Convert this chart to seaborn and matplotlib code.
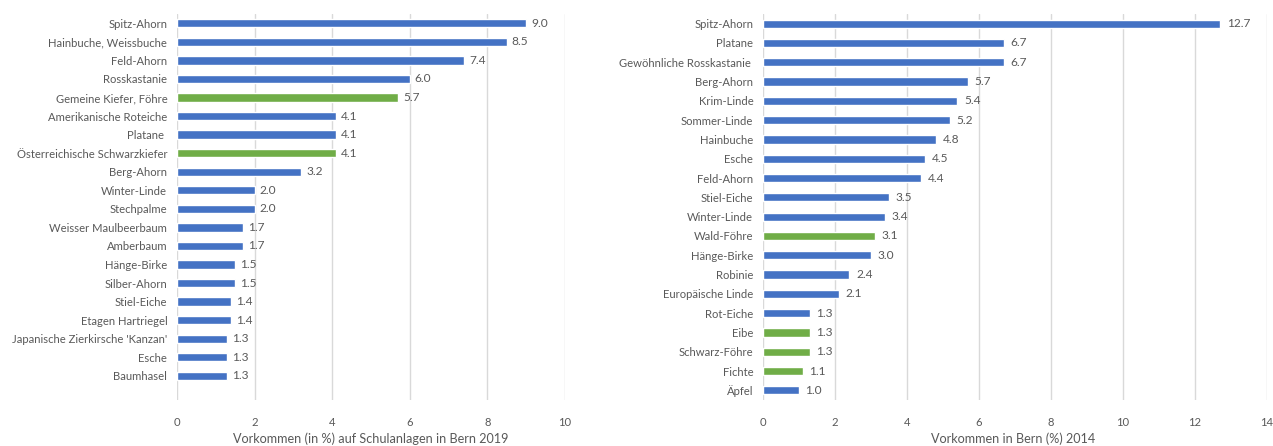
import matplotlib
matplotlib.use("Agg")
import matplotlib.pyplot as plt
import seaborn as sns
import pandas as pd

# ---- data ----
left_species = ["Spitz-Ahorn", "Hainbuche, Weissbuche", "Feld-Ahorn", "Rosskastanie",
                "Gemeine Kiefer, Föhre", "Amerikanische Roteiche", "Platane ",
                "Österreichische Schwarzkiefer", "Berg-Ahorn", "Winter-Linde", "Stechpalme",
                "Weisser Maulbeerbaum", "Amberbaum", "Hänge-Birke", "Silber-Ahorn",
                "Stiel-Eiche", "Etagen Hartriegel", "Japanische Zierkirsche 'Kanzan'",
                "Esche", "Baumhasel"]
left_values = [9.0, 8.5, 7.4, 6.0, 5.7, 4.1, 4.1, 4.1, 3.2, 2.0, 2.0, 1.7, 1.7, 1.5, 1.5,
               1.4, 1.4, 1.3, 1.3, 1.3]
left_type = ["Laub", "Laub", "Laub", "Laub", "Nadel", "Laub", "Laub", "Nadel", "Laub", "Laub",
             "Laub", "Laub", "Laub", "Laub", "Laub", "Laub", "Laub", "Laub", "Laub", "Laub"]

right_species = ["Spitz-Ahorn", "Platane", "Gewöhnliche Rosskastanie ", "Berg-Ahorn",
                 "Krim-Linde", "Sommer-Linde", "Hainbuche", "Esche", "Feld-Ahorn",
                 "Stiel-Eiche", "Winter-Linde", "Wald-Föhre", "Hänge-Birke", "Robinie",
                 "Europäische Linde", "Rot-Eiche", "Eibe", "Schwarz-Föhre", "Fichte", "Äpfel"]
right_values = [12.7, 6.7, 6.7, 5.7, 5.4, 5.2, 4.8, 4.5, 4.4, 3.5, 3.4, 3.1, 3.0, 2.4, 2.1,
                1.3, 1.3, 1.3, 1.1, 1.0]
right_type = ["Laub", "Laub", "Laub", "Laub", "Laub", "Laub", "Laub", "Laub", "Laub", "Laub",
              "Laub", "Nadel", "Laub", "Laub", "Laub", "Laub", "Nadel", "Nadel", "Nadel", "Laub"]

left_xlabel = "Vorkommen (in %) auf Schulanlagen in Bern 2019"
right_xlabel = "Vorkommen in Bern (%) 2014"

palette = {"Laub": "#4472C4", "Nadel": "#70AD47"}
text_color = "#595959"
grid_color = "#D9D9D9"

sns.set_theme(style="white")
plt.rcParams["font.family"] = ["Lato", "DejaVu Sans"]

fig = plt.figure(figsize=(12.73, 4.46), dpi=100)
W, H = 1273, 446
axL = fig.add_axes([177 / W, 1 - 400 / H, (565 - 177) / W, (400 - 14) / H])
axR = fig.add_axes([763 / W, 1 - 400 / H, (1267 - 763) / W, (400 - 14) / H])

FS = 8.1


def draw(ax, species, values, types, xmax, ylim_bottom, xlabel, xlabel_x, width):
    df = pd.DataFrame({"species": species, "value": values, "type": types})
    sns.barplot(data=df, x="value", y="species", hue="type", palette=palette,
                dodge=False, width=width, legend=False, ax=ax, order=species,
                saturation=1)
    ax.set_xlim(0, xmax)
    ax.set_ylim(ylim_bottom, -0.5)
    ax.set_xticks(range(0, xmax + 1, 2))
    ax.grid(axis="x", color=grid_color, linewidth=1)
    ax.set_axisbelow(True)
    for s in ax.spines.values():
        s.set_visible(False)
    ax.axvline(0, color=grid_color, linewidth=1.2, zorder=0.5)
    ax.tick_params(axis="y", length=0, pad=7, labelsize=FS, labelcolor=text_color)
    ax.tick_params(axis="x", length=0, pad=12, labelsize=FS, labelcolor=text_color)
    ax.set_ylabel("")
    ax.set_xlabel(xlabel, fontsize=9.1, color=text_color)
    ax.xaxis.set_label_coords(xlabel_x, -0.085)
    for i, v in enumerate(values):
        ax.text(v + xmax * 0.013, i, f"{v:.1f}", va="center", ha="left",
                fontsize=FS + 0.5, color=text_color)


draw(axL, left_species, left_values, left_type, 10, 20.3, left_xlabel, 0.5, 0.45)
draw(axR, right_species, right_values, right_type, 14, 19.5, right_xlabel, 0.497, 0.42)

fig.savefig("out.png", dpi=100)
